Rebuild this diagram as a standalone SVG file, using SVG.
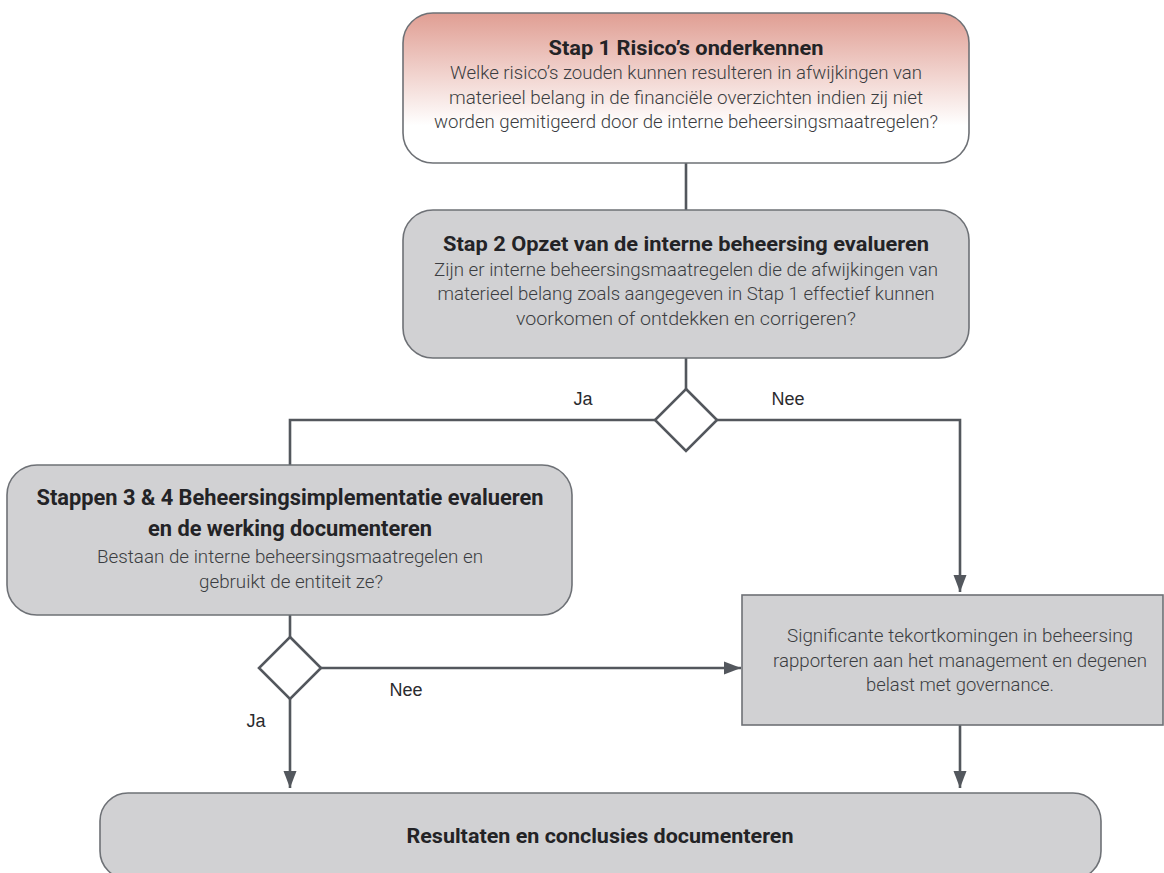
<svg xmlns="http://www.w3.org/2000/svg" width="1164" height="873" viewBox="0 0 1164 873">
  <defs>
    <linearGradient id="riskFill" x1="0" y1="0" x2="0" y2="1">
      <stop offset="0" stop-color="#e09e93"/>
      <stop offset="0.75" stop-color="#ffffff"/>
      <stop offset="1" stop-color="#ffffff"/>
    </linearGradient>
    <marker id="arrow" viewBox="0 0 17 14" refX="17" refY="7" markerWidth="17" markerHeight="14" markerUnits="userSpaceOnUse" orient="auto">
      <path d="M0,0.5 L17,7 L0,13.5 Z" fill="#53575d"/>
    </marker>
  </defs>
  <style>
    .box { stroke: #6e7176; stroke-width: 1.6; }
    .grey { fill: #d1d1d3; }
    .wire { fill: none; stroke: #53575d; stroke-width: 2.6; }
    .diamond { fill: #ffffff; stroke: #53575d; stroke-width: 2.6; }
    .title { font-family: Roboto, "Liberation Sans", sans-serif; font-weight: 700; font-size: 20px; fill: #232326; text-anchor: middle; }
    .big { font-size: 21.5px; }
    .body { font-family: Roboto, "Liberation Sans", sans-serif; font-weight: 300; font-size: 18px; fill: #3b3d41; text-anchor: middle; }
    .label { font-family: "Liberation Sans", Arial, sans-serif; font-size: 18px; fill: #2a2b2e; text-anchor: middle; }
  </style>

  <rect width="1164" height="873" fill="#ffffff"/>

  <!-- flow lines and branch labels -->
  <g id="connectors">
    <path class="wire" d="M686,163 V210"/>
    <path class="wire" d="M686,358 V389"/>
    <path class="wire" d="M655,420 H290 V465"/>
    <path class="wire" d="M717,420 H960 V592" marker-end="url(#arrow)"/>
    <path class="wire" d="M290,615 V637"/>
    <path class="wire" d="M321,668 H741" marker-end="url(#arrow)"/>
    <path class="wire" d="M290,699 V788" marker-end="url(#arrow)"/>
    <path class="wire" d="M960,725 V788" marker-end="url(#arrow)"/>
    <text class="label" x="583" y="405">Ja</text>
    <text class="label" x="788" y="405">Nee</text>
    <text class="label" x="406" y="696">Nee</text>
    <text class="label" x="256" y="727">Ja</text>
  </g>

  <g id="step1">
    <rect class="box" x="403" y="13" width="566" height="150" rx="30" fill="url(#riskFill)"/>
    <text class="title" x="686" y="55" textLength="275" lengthAdjust="spacingAndGlyphs">Stap 1 Risico’s onderkennen</text>
    <text class="body" x="686" y="79" textLength="472" lengthAdjust="spacingAndGlyphs">Welke risico’s zouden kunnen resulteren in afwijkingen van</text>
    <text class="body" x="686" y="104" textLength="474" lengthAdjust="spacingAndGlyphs">materieel belang in de financiële overzichten indien zij niet</text>
    <text class="body" x="686" y="128" textLength="504" lengthAdjust="spacingAndGlyphs">worden gemitigeerd door de interne beheersingsmaatregelen?</text>
  </g>

  <g id="step2">
    <rect class="box grey" x="403" y="210" width="566" height="148" rx="30"/>
    <text class="title" x="686" y="251" textLength="486" lengthAdjust="spacingAndGlyphs">Stap 2 Opzet van de interne beheersing evalueren</text>
    <text class="body" x="686" y="276" textLength="504" lengthAdjust="spacingAndGlyphs">Zijn er interne beheersingsmaatregelen die de afwijkingen van</text>
    <text class="body" x="686" y="300" textLength="497" lengthAdjust="spacingAndGlyphs">materieel belang zoals aangegeven in Stap 1 effectief kunnen</text>
    <text class="body" x="686" y="325" textLength="340" lengthAdjust="spacingAndGlyphs">voorkomen of ontdekken en corrigeren?</text>
  </g>

  <g id="decision1">
    <path class="diamond" d="M686,389 L717,420 L686,451 L655,420 Z"/>
  </g>

  <g id="step3-4">
    <rect class="box grey" x="7" y="465" width="565" height="150" rx="30"/>
    <text class="title big" x="290" y="505" textLength="507" lengthAdjust="spacingAndGlyphs">Stappen 3 &amp; 4 Beheersingsimplementatie evalueren</text>
    <text class="title big" x="290" y="536" textLength="284" lengthAdjust="spacingAndGlyphs">en de werking documenteren</text>
    <text class="body" x="290" y="563" textLength="386" lengthAdjust="spacingAndGlyphs">Bestaan de interne beheersingsmaatregelen en</text>
    <text class="body" x="291" y="588" textLength="184" lengthAdjust="spacingAndGlyphs">gebruikt de entiteit ze?</text>
  </g>

  <g id="decision2">
    <path class="diamond" d="M290,637 L321,668 L290,699 L259,668 Z"/>
  </g>

  <g id="report">
    <rect class="box grey" x="742" y="595" width="421" height="130"/>
    <text class="body" x="960" y="642" textLength="346" lengthAdjust="spacingAndGlyphs">Significante tekortkomingen in beheersing</text>
    <text class="body" x="960" y="667" textLength="374" lengthAdjust="spacingAndGlyphs">rapporteren aan het management en degenen</text>
    <text class="body" x="960" y="691" textLength="188" lengthAdjust="spacingAndGlyphs">belast met governance.</text>
  </g>

  <g id="results">
    <rect class="box grey" x="100" y="793" width="1001" height="86" rx="28"/>
    <text class="title" x="600" y="843" textLength="387" lengthAdjust="spacingAndGlyphs">Resultaten en conclusies documenteren</text>
  </g>
</svg>
